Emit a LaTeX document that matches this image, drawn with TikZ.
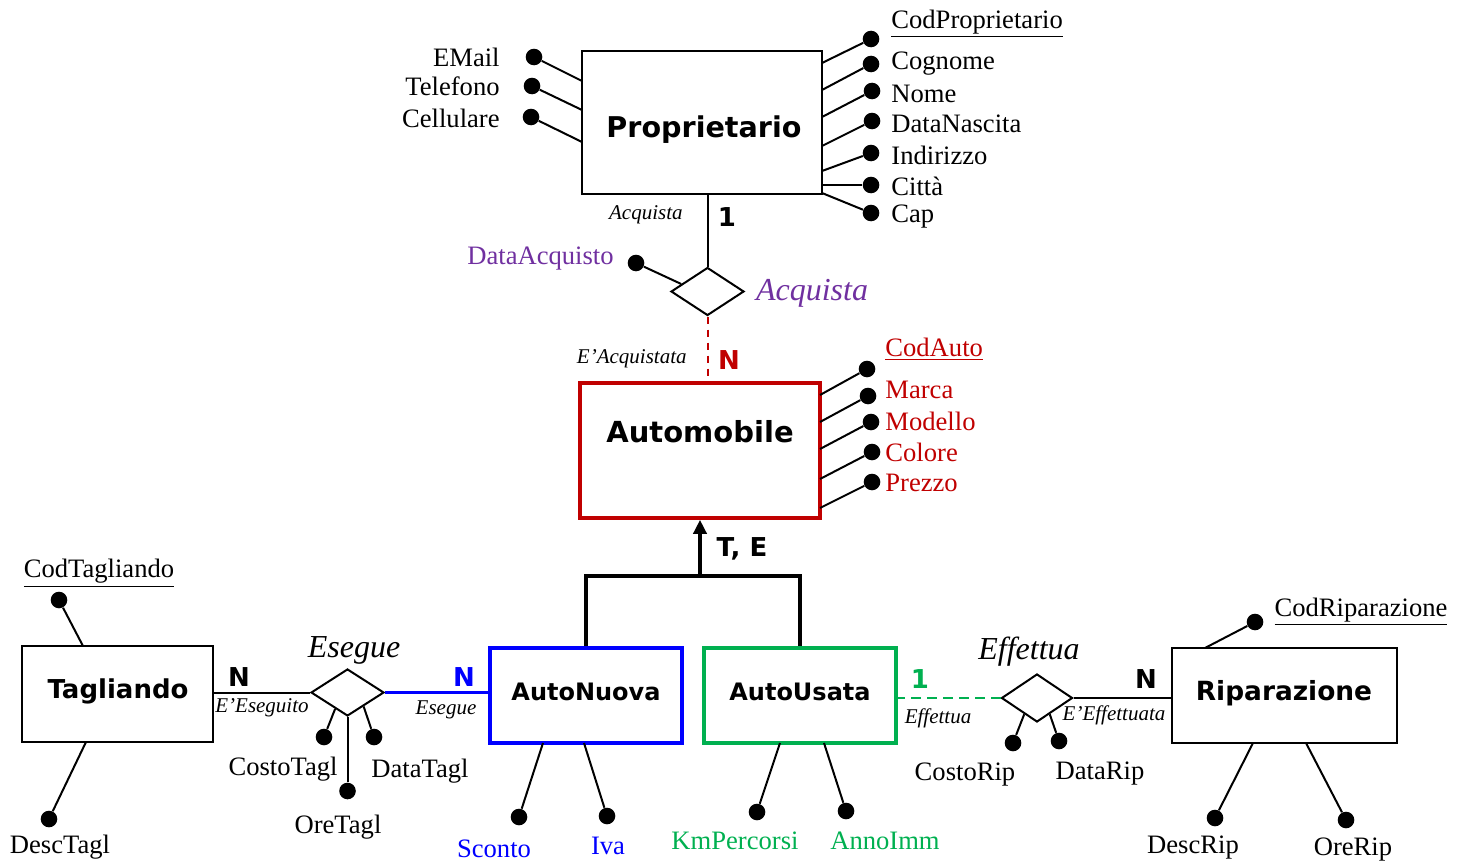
\documentclass[tikz,border=0pt]{standalone}
\usepackage{fontspec}
\setmainfont{Liberation Serif}
\newfontfamily\sansb{DejaVu Sans}
\usetikzlibrary{arrows.meta,calc,shapes.geometric}
\definecolor{cpurple}{HTML}{7030A0}
\definecolor{cred}{HTML}{C00000}
\definecolor{cblue}{HTML}{0000FF}
\definecolor{cgreen}{HTML}{00B050}
\begin{document}
\begin{tikzpicture}[x=0.5pt,y=-0.5pt,
 ln/.style={line width=1pt},
 dot/.style={circle,fill,inner sep=0pt,minimum size=8.3pt},
 ebox/.style={draw,line width=1pt,inner sep=0pt},
 cbox/.style={draw,line width=1.8pt,inner sep=0pt},
 rel/.style={diamond,draw,line width=1pt,inner sep=0pt,aspect=1.46},
 attr/.style={inner sep=0pt,font=\fontsize{13.3}{15}\selectfont},
 role/.style={inner sep=0pt,font=\itshape\fontsize{10.5}{12}\selectfont},
 rname/.style={inner sep=0pt,font=\itshape\fontsize{16}{18}\selectfont},
 ename/.style={inner sep=0pt,font=\sansb\bfseries\fontsize{14.3}{16}\selectfont},
 sname/.style={inner sep=0pt,font=\sansb\bfseries\fontsize{12}{14}\selectfont},
 card/.style={inner sep=0pt,font=\sansb\bfseries\fontsize{13}{15}\selectfont},
 gen/.style={line width=1.75pt},
]
\useasboundingbox (0,0) rectangle (1464,862);

% ---------- entities ----------
\node[ebox,minimum width=120pt,minimum height=71.5pt] (prop) at (702,122.5) {};
\node[ename] (propt) at (704,130) {Proprietario};
\node[cbox,draw=cred,minimum width=120pt,minimum height=67.5pt] (auto) at (700,450.5) {};
\node[ename,font=\sansb\bfseries\fontsize{14.5}{16}\selectfont] (autot) at (700,432) {Automobile};
\node[cbox,draw=cblue,minimum width=96pt,minimum height=47.5pt] (nuova) at (586,695.5) {};
\node[sname] (nuovat) at (586,692) {AutoNuova};
\node[cbox,draw=cgreen,minimum width=96pt,minimum height=47.5pt] (usata) at (800,695.5) {};
\node[sname] (usatat) at (800,692) {AutoUsata};
\node[ebox,minimum width=95.5pt,minimum height=48pt] (tag) at (117.5,694) {};
\node[ename,font=\sansb\bfseries\fontsize{13}{15}\selectfont] (tagt) at (118,691) {Tagliando};
\node[ebox,minimum width=112.5pt,minimum height=47.5pt] (rip) at (1284.5,695.5) {};
\node[ename,font=\sansb\bfseries\fontsize{13.2}{15}\selectfont] (ript) at (1284,693) {Riparazione};

% ---------- relationships ----------
\node[rel,minimum width=36.5pt,minimum height=24pt] (acq) at (707.5,291.5) {};
\node[rel,minimum width=36.5pt,minimum height=23.5pt] (ese) at (347.5,692.5) {};
\node[rel,minimum width=35.5pt,minimum height=24pt] (eff) at (1037,698) {};

% Acquista
\draw[ln] (prop.south -| acq.north) -- (acq.north);
\draw[ln,cred,dash pattern=on 3.5pt off 3pt] (acq.south) -- (acq.south |- auto.north);
\node[role,anchor=east] (lacq1) at (683,215) {Acquista};
\node[card] (cacq1) at (727,217) {1};
\node[rname,text=cpurple] (nacq) at (812,293) {Acquista};
\node[role,anchor=east] (lacq2) at (687,359) {E’Acquistata};
\node[card,text=cred] (cacq2) at (729,360) {N};
\node[attr,anchor=east,text=cpurple] (tDataAcq) at (614,259) {DataAcquisto};
\node[dot] (dDataAcq) at (636,263) {};
\coordinate (cDataAcq) at ($(acq.west)!0.3!(acq.north)$);
\draw[ln] (cDataAcq) -- (dDataAcq);

% Generalization
\coordinate (gj) at (700,576);
\draw[gen] (nuova.north) -- (nuova.north |- gj) -- (usata.north |- gj) -- (usata.north);
\draw[gen,-{Triangle[length=7pt,width=6.5pt]}] (gj) -- (gj |- auto.south);
\node[card] (te) at (742,549) {T, E};

% Esegue
\draw[ln] (ese.west) -- (ese.west -| tag.east);
\draw[ln,cblue,line width=1.2pt] (ese.east) -- (ese.east -| nuova.west);
\node[card] (cese1) at (239,677) {N};
\node[role] (lese1) at (262,708) {E’Eseguito};
\node[rname] (nese) at (354,650) {Esegue};
\node[card,text=cblue] (cese2) at (464,677) {N};
\node[role] (lese2) at (446,710) {Esegue};

% Effettua
\draw[ln,cgreen,line width=1.2pt,dash pattern=on 5pt off 3pt] (eff.west) -- (eff.west -| usata.east);
\draw[ln] (eff.east) -- (eff.east -| rip.west);
\node[card,text=cgreen] (ceff1) at (920,679) {1};
\node[role] (leff1) at (938,718) {Effettua};
\node[rname] (neff) at (1029,652) {Effettua};
\node[card] (ceff2) at (1146,679) {N};
\node[role] (leff2) at (1114,715) {E’Effettuata};

% ---------- Proprietario attributes ----------
\node[attr,anchor=east] (tEMail) at (500,57) {EMail};
\node[dot] (dEMail) at (534,57) {};
\coordinate (cEMail) at (582,81);
\draw[ln] (cEMail) -- (dEMail);
\node[attr,anchor=east] (tTel) at (500,86) {Telefono};
\node[dot] (dTel) at (532,86) {};
\coordinate (cTel) at (582,110);
\draw[ln] (cTel) -- (dTel);
\node[attr,anchor=east] (tCell) at (500,118) {Cellulare};
\node[dot] (dCell) at (531,117) {};
\coordinate (cCell) at (582,142);
\draw[ln] (cCell) -- (dCell);

\node[attr,anchor=west] (tCodP) at (891,24) {\underline{CodProprietario}};
\node[dot] (dCodP) at (871,39) {};
\coordinate (cCodP) at (822,63);
\draw[ln] (cCodP) -- (dCodP);
\node[attr,anchor=west] (tCog) at (891,64) {Cognome};
\node[dot] (dCog) at (871,64) {};
\coordinate (cCog) at (822,90);
\draw[ln] (cCog) -- (dCog);
\node[attr,anchor=west] (tNome) at (891,94) {Nome};
\node[dot] (dNome) at (872,91) {};
\coordinate (cNome) at (822,117);
\draw[ln] (cNome) -- (dNome);
\node[attr,anchor=west] (tDN) at (891,124) {DataNascita};
\node[dot] (dDN) at (872,121) {};
\coordinate (cDN) at (822,146);
\draw[ln] (cDN) -- (dDN);
\node[attr,anchor=west] (tInd) at (891,155) {Indirizzo};
\node[dot] (dInd) at (871,153) {};
\coordinate (cInd) at (822,171);
\draw[ln] (cInd) -- (dInd);
\node[attr,anchor=west] (tCit) at (891,186) {Città};
\node[dot] (dCit) at (871,185) {};
\coordinate (cCit) at (822,185);
\draw[ln] (cCit) -- (dCit);
\node[attr,anchor=west] (tCap) at (891,217) {Cap};
\node[dot] (dCap) at (871,213) {};
\coordinate (cCap) at (822,193);
\draw[ln] (cCap) -- (dCap);

% ---------- Automobile attributes ----------
\begin{scope}[every node/.append style={text=cred}]
\node[attr,anchor=west] (tCodA) at (885,349) {\underline{CodAuto}};
\node[attr,anchor=west] (tMarca) at (885,390) {Marca};
\node[attr,anchor=west] (tMod) at (885,421) {Modello};
\node[attr,anchor=west] (tCol) at (885,452) {Colore};
\node[attr,anchor=west] (tPrez) at (885,483) {Prezzo};
\end{scope}
\node[dot] (dCodA) at (867,369) {};
\node[dot] (dMarca) at (868,396) {};
\node[dot] (dMod) at (871,422) {};
\node[dot] (dCol) at (872,452) {};
\node[dot] (dPrez) at (872,482) {};
\coordinate (cCodA) at (820,395);
\coordinate (cMarca) at (820,422);
\coordinate (cMod) at (820,449);
\coordinate (cCol) at (820,479);
\coordinate (cPrez) at (820,508);
\draw[ln] (cCodA) -- (dCodA);
\draw[ln] (cMarca) -- (dMarca);
\draw[ln] (cMod) -- (dMod);
\draw[ln] (cCol) -- (dCol);
\draw[ln] (cPrez) -- (dPrez);

% ---------- Esegue attributes ----------
\coordinate (cCostoT) at ($(ese.west)!0.67!(ese.south)$);
\node[dot] (dCostoT) at (324,737) {};
\draw[ln] (cCostoT) -- (dCostoT);
\node[attr] (tCostoT) at (283,769) {CostoTagl};
\coordinate (cDataT) at ($(ese.south)!0.43!(ese.east)$);
\node[dot] (dDataT) at (374,737) {};
\draw[ln] (cDataT) -- (dDataT);
\node[attr] (tDataT) at (420,771) {DataTagl};
\node[dot] (dOreT) at (347.5,791) {};
\draw[ln] (ese.south) -- (dOreT);
\node[attr] (tOreT) at (338,827) {OreTagl};

% ---------- Tagliando attributes ----------
\node[attr] (tCodT) at (99,573) {\underline{CodTagliando}};
\node[dot] (dCodT) at (59,600) {};
\coordinate (cCodT) at (83,646);
\draw[ln] (cCodT) -- (dCodT);
\node[dot] (dDescT) at (49,819) {};
\coordinate (cDescT) at (86,742);
\draw[ln] (cDescT) -- (dDescT);
\node[attr] (tDescT) at (60,847) {DescTagl};

% ---------- AutoNuova / AutoUsata attributes ----------
\node[dot] (dSconto) at (519,817) {};
\coordinate (cSconto) at (543,743);
\draw[ln] (cSconto) -- (dSconto);
\node[attr,text=cblue] (tSconto) at (494,849) {Sconto};
\node[dot] (dIva) at (607,816) {};
\coordinate (cIva) at (584,743);
\draw[ln] (cIva) -- (dIva);
\node[attr,text=cblue] (tIva) at (608,846) {Iva};
\node[dot] (dKm) at (757,812) {};
\coordinate (cKm) at (780,743);
\draw[ln] (cKm) -- (dKm);
\node[attr,text=cgreen] (tKm) at (735,841) {KmPercorsi};
\node[dot] (dAnno) at (846,811) {};
\coordinate (cAnno) at (824,743);
\draw[ln] (cAnno) -- (dAnno);
\node[attr,text=cgreen] (tAnno) at (885,841) {AnnoImm};

% ---------- Effettua attributes ----------
\coordinate (cCostoR) at ($(eff.west)!0.65!(eff.south)$);
\node[dot] (dCostoR) at (1013,743) {};
\draw[ln] (cCostoR) -- (dCostoR);
\node[attr] (tCostoR) at (965,775) {CostoRip};
\coordinate (cDataR) at ($(eff.south)!0.35!(eff.east)$);
\node[dot] (dDataR) at (1059,741) {};
\draw[ln] (cDataR) -- (dDataR);
\node[attr] (tDataR) at (1100,774) {DataRip};

% ---------- Riparazione attributes ----------
\node[attr] (tCodR) at (1361,612) {\underline{CodRiparazione}};
\node[dot] (dCodR) at (1255,622) {};
\coordinate (cCodR) at (1205,648);
\draw[ln] (cCodR) -- (dCodR);
\node[dot] (dDescR) at (1215,818) {};
\coordinate (cDescR) at (1253,743);
\draw[ln] (cDescR) -- (dDescR);
\node[attr] (tDescR) at (1193,848) {DescRip};
\node[dot] (dOreR) at (1346,820) {};
\coordinate (cOreR) at (1306,743);
\draw[ln] (cOreR) -- (dOreR);
\node[attr] (tOreR) at (1353,850) {OreRip};
\end{tikzpicture}
\end{document}
